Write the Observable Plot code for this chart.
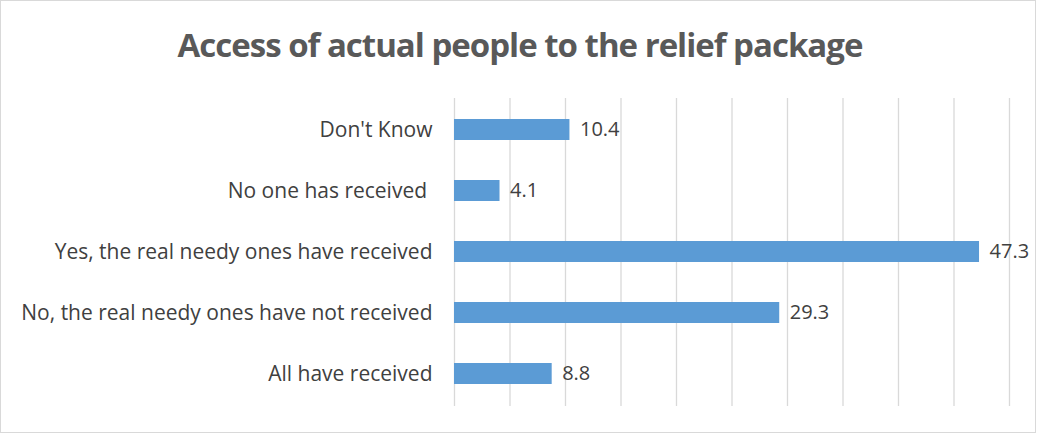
<!DOCTYPE html>
<html>
<head>
<meta charset="utf-8">
<script src="https://cdn.jsdelivr.net/npm/d3@7"></script>
<script src="https://cdn.jsdelivr.net/npm/@observablehq/plot@0.6"></script>
<style>
  body { margin: 0; background: #fff; }
  #chart {
    position: relative; width: 1036px; height: 433px; box-sizing: border-box;
    border: 1px solid #d9d9d9; background: #fff; overflow: hidden;
  }
  #title {
    height: 88px; line-height: 88px; text-align: center; padding-left: 4px;
    font-family: "Open Sans", sans-serif; font-weight: bold; font-size: 33px;
    color: #595959; letter-spacing: -1px; white-space: nowrap;
  }
</style>
</head>
<body>
<div id="chart"><div id="title">Access of actual people to the relief package</div></div>
<script>
const categories = [
  "Don't Know",
  "No one has received ",
  "Yes, the real needy ones have received",
  "No, the real needy ones have not received",
  "All have received"
];
const values = [10.4, 4.1, 47.3, 29.3, 8.8];
const gridTicks = [0, 5, 10, 15, 20, 25, 30, 35, 40, 45, 50];

const data = categories.map((c, i) => ({category: c, value: values[i]}));

const chart = Plot.plot({
  width: 1034,
  height: 343,
  marginLeft: 453,
  marginRight: 26,
  marginTop: 9,
  marginBottom: 26,
  style: {fontFamily: "'Open Sans', sans-serif", fontSize: "21px", color: "#404040", background: "#fff"},
  x: {domain: [0, 50], axis: null},
  y: {domain: categories, paddingInner: 0.65, paddingOuter: 0.325, axis: null},
  marks: [
    Plot.ruleX(gridTicks, {stroke: "#d9d9d9", strokeWidth: 1.3, strokeOpacity: 1}),
    Plot.barX(data, {x: "value", y: "category", fill: "#5b9bd5", inset: 0}),
    Plot.text(data, {x: "value", y: "category", text: d => d.value.toFixed(1), textAnchor: "start", dx: 10, fill: "#404040", fontSize: 20, style: "letter-spacing: 0.8px"}),
    Plot.axisY({tickSize: 0, tickPadding: 22, fontSize: 21, fill: "#404040", label: null, style: "letter-spacing: 1.35px"})
  ]
});
document.getElementById("chart").appendChild(chart);
</script>
</body>
</html>
